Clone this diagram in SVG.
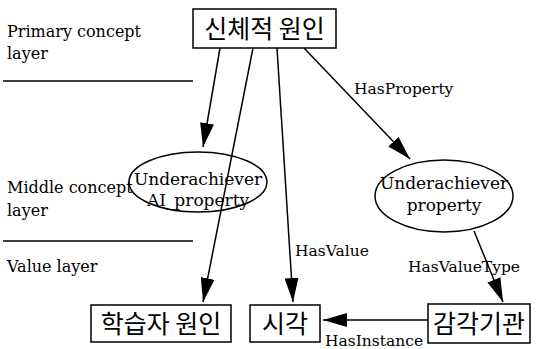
<svg xmlns="http://www.w3.org/2000/svg" width="536" height="349" viewBox="0 0 536 349">
<style>
.lbl{font-family:"DejaVu Serif","Liberation Serif",serif;font-size:15.5px;fill:#000}
.side{font-family:"DejaVu Serif","Liberation Serif",serif;font-size:16px;fill:#000}
.el{font-family:"DejaVu Serif","Liberation Serif",serif;font-size:17px;fill:#000}
.kr{font-family:"Noto Sans CJK KR",sans-serif;font-size:25px;fill:#000}
.box{fill:#fff;stroke:#000;stroke-width:1.5}
.ell{fill:none;stroke:#000;stroke-width:1.5}
.edge{stroke:#000;stroke-width:1.5;fill:none}
.sep{stroke:#000;stroke-width:1.5}
</style>
<defs>
<marker id="ahb" markerWidth="24" markerHeight="14" refX="24" refY="7" orient="auto" markerUnits="userSpaceOnUse" viewBox="0 0 24 14">
<path d="M0,0 L24,7 L0,14 Z" fill="#000"/>
</marker>
</defs>
<rect width="536" height="349" fill="#fff"/>
<g id="layers">
<text class="side" x="7" y="37">Primary concept</text>
<text class="side" x="7" y="59">layer</text>
<line class="sep" x1="3" y1="81" x2="193" y2="81"/>
<text class="side" x="7" y="193">Middle concept</text>
<text class="side" x="7" y="216">layer</text>
<line class="sep" x1="3" y1="241" x2="193" y2="241"/>
<text class="side" x="7" y="272">Value layer</text>
</g>
<g id="connectors">
<line class="edge" x1="220" y1="48" x2="203" y2="147" marker-end="url(#ahb)"/>
<line class="edge" x1="253" y1="48" x2="203" y2="302" marker-end="url(#ahb)"/>
<line class="edge" x1="277" y1="48" x2="293" y2="302" marker-end="url(#ahb)"/>
<line class="edge" x1="304" y1="48" x2="410" y2="159" marker-end="url(#ahb)"/>
<line class="edge" x1="474" y1="231" x2="503" y2="302" marker-end="url(#ahb)"/>
<line class="edge" x1="428" y1="320" x2="323" y2="320" marker-end="url(#ahb)"/>
<text class="lbl" x="354" y="94">HasProperty</text>
<text class="lbl" x="295" y="256">HasValue</text>
<text class="lbl" x="408" y="272">HasValueType</text>
<text class="lbl" x="325" y="346">HasInstance</text>
</g>
<g id="n-top">
<rect class="box" x="193" y="9" width="143" height="39"/>
<text class="kr" x="264.500" y="38" text-anchor="middle">신체적 원인</text>
</g>
<g id="n-ai">
<ellipse class="ell" cx="198" cy="182" rx="69" ry="30"/>
<text class="el" x="198" y="185" text-anchor="middle">Underachiever</text>
<text class="el" x="198" y="206" text-anchor="middle">AI_property</text>
</g>
<g id="n-prop">
<ellipse class="ell" cx="444" cy="196" rx="69" ry="36"/>
<text class="el" x="444" y="189" text-anchor="middle">Underachiever</text>
<text class="el" x="444" y="211" text-anchor="middle">property</text>
</g>
<g id="n-learner">
<rect class="box" x="91" y="305" width="140" height="37"/>
<text class="kr" x="161" y="333" text-anchor="middle">학습자 원인</text>
</g>
<g id="n-vision">
<rect class="box" x="250" y="305" width="70" height="37"/>
<text class="kr" x="285" y="333" text-anchor="middle">시각</text>
</g>
<g id="n-sense">
<rect class="box" x="428" y="304" width="102" height="39"/>
<text class="kr" x="479" y="333" text-anchor="middle">감각기관</text>
</g>
</svg>
